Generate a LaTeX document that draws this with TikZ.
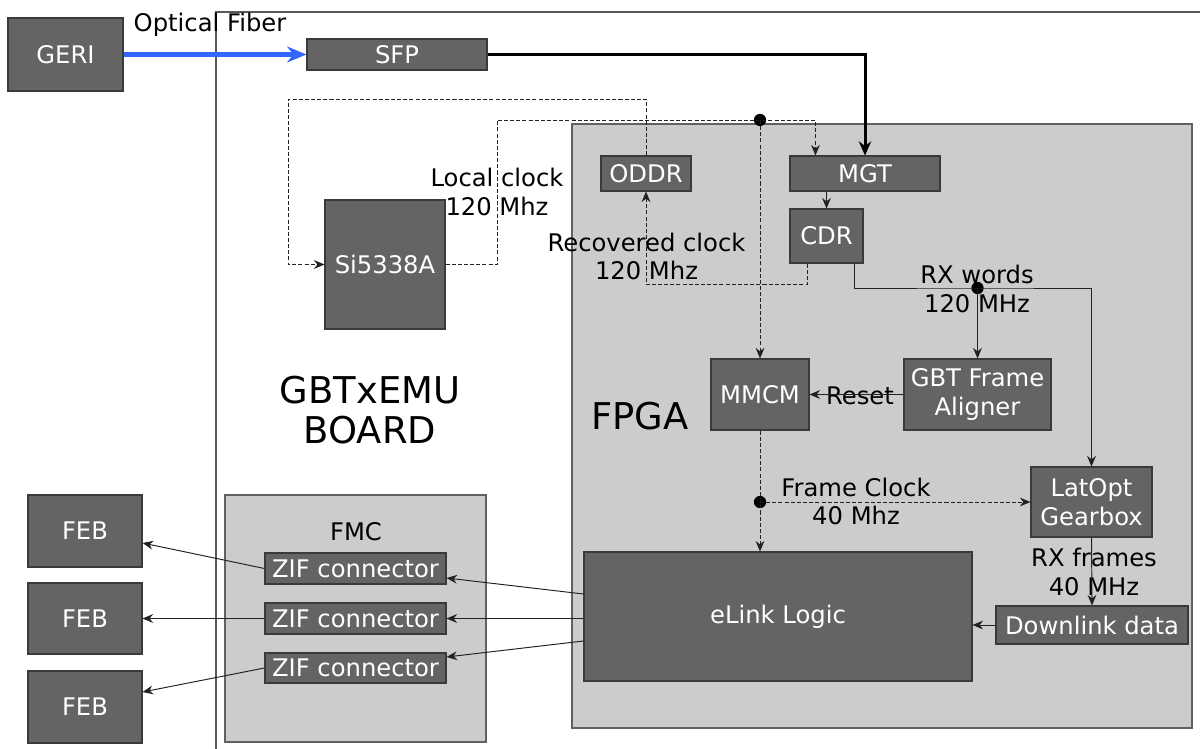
\documentclass[tikz,border=0pt]{standalone}
\usepackage{fontspec}
\setmainfont{DejaVu Sans}
\usetikzlibrary{arrows.meta,calc}
\definecolor{boxg}{HTML}{646464}
\definecolor{contg}{HTML}{CCCCCC}
\definecolor{edgeg}{HTML}{3A3A3A}
\definecolor{fiber}{HTML}{3366FF}
\definecolor{lineg}{HTML}{222222}
\newcommand\fs{\fontsize{13.8}{16.4}\selectfont}
\newcommand\fbig{\fontsize{21}{22.7}\selectfont}
\begin{document}
\begin{tikzpicture}[x=0.02cm,y=-0.02cm,
  box/.style={draw=edgeg,fill=boxg,text=white,inner sep=0pt,line width=0.6pt,font=\fs,align=center},
  bw/.style={minimum width=#1*0.02cm},
  bh/.style={minimum height=#1*0.02cm},
  cont/.style={draw=edgeg!80,fill=contg,line width=0.6pt},
  lbl/.style={font=\fs,align=center,inner sep=0pt},
  big/.style={font=\fbig,align=center,inner sep=0pt},
  conn/.style={draw=lineg,line width=0.55pt,-{Stealth[length=6pt,width=5pt]}},
  dconn/.style={conn,dash pattern=on 2.3pt off 1.2pt},
  dotn/.style={circle,fill=black,inner sep=0pt,minimum size=7pt},
  boardline/.style={draw=edgeg!85,line width=0.8pt}
]
\useasboundingbox (0,0) rectangle (1200,749);
% containers
\draw[boardline] (216,749) -- (216,12) -- (1200,12);
\draw[cont] (572,124) rectangle (1192,728);
\draw[cont] (225,495) rectangle (486,742);
% boxes
\node[box, bw=115, bh=73] (geri) at (65.5,54.5) {GERI};
\node[box, bw=180, bh=31] (sfp) at (397,54.5) {SFP};
\node[box, bw=90, bh=35] (oddr) at (646,173.5) {ODDR};
\node[box, bw=150, bh=35] (mgt) at (865,173.5) {MGT};
\node[box, bw=73, bh=54] (cdr) at (826.5,236) {CDR};
\node[box, bw=120, bh=129] (si) at (385,264.5) {Si5338A};
\node[box, bw=98, bh=71] (mmcm) at (760,394.5) {MMCM};
\node[box, bw=147, bh=71] (gbt) at (977.5,394.5) {GBT Frame\\Aligner};
\node[box, bw=121, bh=70] (latopt) at (1091.5,502) {LatOpt\\Gearbox};
\node[box, bw=192, bh=38] (down) at (1092,625) {Downlink data};
\node[box, bw=388, bh=129] (elink) at (778,616.5) {eLink Logic};
\node[box, bw=181, bh=31] (zif1) at (355.5,568.5) {ZIF connector};
\node[box, bw=181, bh=31] (zif2) at (355.5,618.5) {ZIF connector};
\node[box, bw=181, bh=30] (zif3) at (355.5,668) {ZIF connector};
\node[box, bw=114, bh=72] (feb1) at (85,531) {FEB};
\node[box, bw=114, bh=71] (feb2) at (85,618.5) {FEB};
\node[box, bw=114, bh=72] (feb3) at (85,707) {FEB};
% labels
\node[lbl] (of) at (210,25) {Optical Fiber};
\node[lbl] (lclk) at (497,192) {Local clock\\120 Mhz};
\node[lbl] (rclk) at (646.5,256.5) {Recovered clock\\120 Mhz};
\node[lbl] (rxw) at (977,289) {RX words\\120 MHz};
\node[lbl] (fclk) at (856,501.5) {Frame Clock\\40 Mhz};
\node[lbl] (rxf) at (1094,572) {RX frames\\40 MHz};
\node[lbl] (rst) at (860,396) {Reset};
\node[big] (fpgal) at (640,416) {FPGA};
\node[big] (gbtl) at (370,410) {GBTxEMU\\BOARD};
\node[lbl] (fmcl) at (356,532) {FMC};
% junctions
\coordinate (lc) at (497,120);
\node[dotn] (d1) at (760,120) {};
\node[dotn] (d2) at (977.5,288) {};
\node[dotn] (d3) at (760,502) {};
% connectors
\draw[line width=2.8pt, fiber, -{Stealth[length=11pt,width=9pt]}] (geri.east) -- (sfp.west);
\draw[line width=1.7pt, -{Stealth[length=8pt,width=7pt]}] (sfp.east) -| (mgt.north);
\draw[dconn] (oddr.north) |- (288,99) |- (si.west);
\draw[dconn] (si.east) -| (lc) -- (d1.center) -| ([xshift=0.52cm]mgt.north west);
\draw[dconn] (d1.center) -- (mmcm.north);
\draw[dconn] ([xshift=-0.39cm]cdr.south) -- ++(0,21) -| (oddr.south);
\draw[conn] (mgt.south -| cdr.north) -- (cdr.north);
\draw[conn] ([xshift=0.55cm]cdr.south) |- (d2.center) -| (latopt.north);
\draw[conn] (d2.center) -- (gbt.north);
\draw[conn] (gbt.west) -- (mmcm.east);
\draw[dconn] (mmcm.south) -- (d3.center) -- (d3 |- elink.north);
\draw[dconn] (d3.center) -- (latopt.west);
\draw[conn] (latopt.south) -- (down.north);
\draw[conn] (down.west) -- (elink.east |- down.west);
\draw[conn] ([yshift=0.45cm]elink.west) -- ([yshift=-0.19cm]zif1.east);
\draw[conn] (elink.west |- zif2.east) -- (zif2.east);
\draw[conn] ([yshift=-0.49cm]elink.west) -- ([yshift=0.22cm]zif3.east);
\draw[conn] (zif1.west) -- ([yshift=-0.24cm]feb1.east);
\draw[conn] (zif2.west) -- (feb2.east);
\draw[conn] (zif3.west) -- ([yshift=0.3cm]feb3.east);
\end{tikzpicture}
\end{document}
